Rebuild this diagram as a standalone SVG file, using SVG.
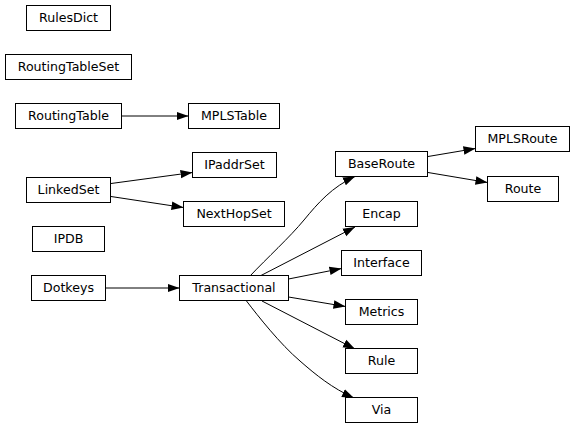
<svg xmlns="http://www.w3.org/2000/svg" width="576" height="429" viewBox="0 0 576 429">
<style>
rect{fill:#fff;stroke:#000;stroke-width:1}
text{font-family:"DejaVu Sans","Liberation Sans",sans-serif;font-size:12.6px;text-anchor:middle;fill:#000}
.e path{fill:none;stroke:#000;stroke-width:1;marker-end:url(#a)}
</style>
<defs>
<marker id="a" markerUnits="userSpaceOnUse" markerWidth="12" markerHeight="10" viewBox="0 0 9 6.4" refX="9" refY="3.2" orient="auto">
<path d="M0,0 L9,3.2 L0,6.4 z" fill="#000"/>
</marker>
</defs>
<rect width="576" height="429" style="stroke:none"/>
<g class="e">
<path d="M121.5,116 L188.5,116"/>
<path d="M111,183.5 L192.5,172.5"/>
<path d="M111,196.5 L183.5,207.5"/>
<path d="M106,288 L179.5,288"/>
<path d="M250,276 C267,258 290,237 304,220 C318,203 332,187 355,176.5"/>
<path d="M260,276 L355,227"/>
<path d="M288.5,279 L341.5,268.5"/>
<path d="M288.5,297 L345.5,306.5"/>
<path d="M262,301 L355,349"/>
<path d="M246.5,301 C258,316 280,344 300,361 C316,375 332,388 354,398"/>
<path d="M428,156.5 L475.5,148.5"/>
<path d="M428,172.5 L487.5,182.5"/>
</g>
<g id="RulesDict"><rect x="26.5" y="5.5" width="84" height="25"/><text x="68.5" y="22">RulesDict</text></g>
<g id="RoutingTableSet"><rect x="5.5" y="54.5" width="126" height="25"/><text x="68.5" y="71">RoutingTableSet</text></g>
<g id="RoutingTable"><rect x="15.5" y="103.5" width="106" height="25"/><text x="68.5" y="120">RoutingTable</text></g>
<g id="MPLSTable"><rect x="188.5" y="103.5" width="91" height="25"/><text x="234" y="120">MPLSTable</text></g>
<g id="IPaddrSet"><rect x="192.5" y="152.5" width="84" height="25"/><text x="234.5" y="169">IPaddrSet</text></g>
<g id="LinkedSet"><rect x="26.5" y="177.5" width="84" height="25"/><text x="68.5" y="194">LinkedSet</text></g>
<g id="NextHopSet"><rect x="183.5" y="201.5" width="101" height="25"/><text x="234" y="218">NextHopSet</text></g>
<g id="IPDB"><rect x="32.5" y="226.5" width="72" height="25"/><text x="68.5" y="243">IPDB</text></g>
<g id="Dotkeys"><rect x="31.5" y="275.5" width="74" height="25"/><text x="68.5" y="292">Dotkeys</text></g>
<g id="Transactional"><rect x="179.5" y="275.5" width="109" height="25"/><text x="234" y="292">Transactional</text></g>
<g id="MPLSRoute"><rect x="475.5" y="126.5" width="94" height="25"/><text x="522.5" y="143">MPLSRoute</text></g>
<g id="BaseRoute"><rect x="335.5" y="151.5" width="92" height="25"/><text x="381.5" y="168">BaseRoute</text></g>
<g id="Route"><rect x="487.5" y="176.5" width="71" height="25"/><text x="523" y="193">Route</text></g>
<g id="Encap"><rect x="345.5" y="201.5" width="72" height="25"/><text x="381.5" y="218">Encap</text></g>
<g id="Interface"><rect x="341.5" y="250.5" width="80" height="25"/><text x="381.5" y="267">Interface</text></g>
<g id="Metrics"><rect x="345.5" y="299.5" width="72" height="25"/><text x="381.5" y="316">Metrics</text></g>
<g id="Rule"><rect x="345.5" y="348.5" width="72" height="25"/><text x="381.5" y="365">Rule</text></g>
<g id="Via"><rect x="345.5" y="397.5" width="72" height="25"/><text x="381.5" y="414">Via</text></g>
</svg>
